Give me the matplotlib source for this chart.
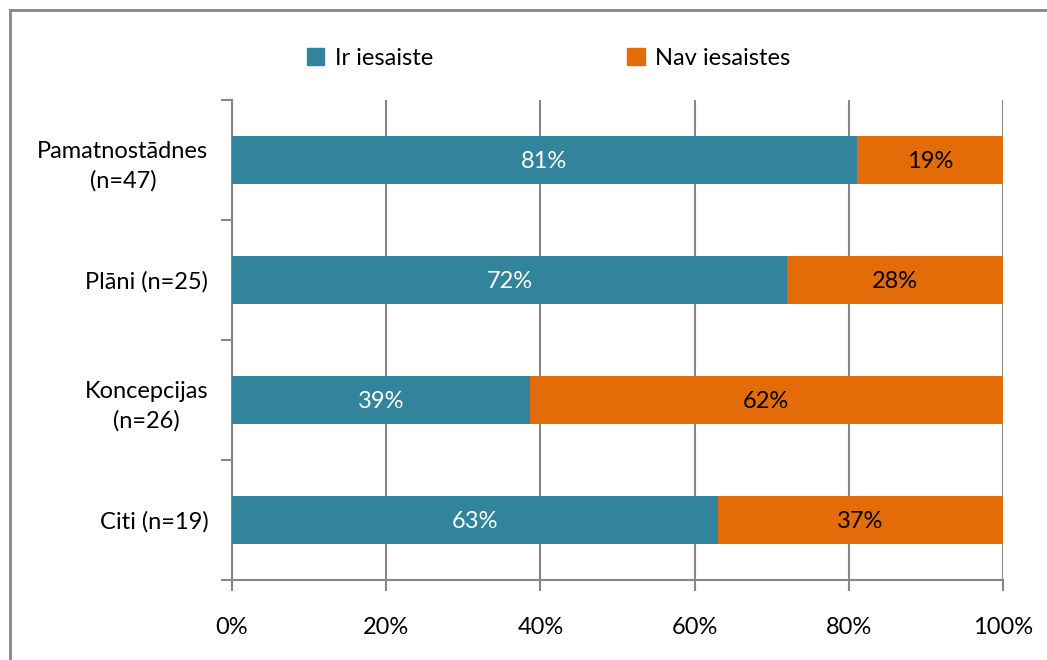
import matplotlib

matplotlib.use("Agg")
import matplotlib.pyplot as plt
import numpy as np
from matplotlib.lines import Line2D
from matplotlib.patches import Patch

categories = ["Pamatnostādnes\n(n=47)", "Plāni (n=25)", "Koncepcijas\n(n=26)", "Citi (n=19)"]
ir_iesaiste = [81, 72, 39, 63]
nav_iesaistes = [19, 28, 62, 37]
series_names = ["Ir iesaiste", "Nav iesaistes"]
x_ticks = [0, 20, 40, 60, 80, 100]

TEAL = "#31849B"
ORANGE = "#E36C09"
GRID = "#878787"
FS = 17

plt.rcParams["font.family"] = ["Lato", "DejaVu Sans"]

ir = np.array(ir_iesaiste, dtype=float)
nav = np.array(nav_iesaistes, dtype=float)
total = ir + nav
# 100% stacked: each row is scaled to its own total
ir_share = ir / total * 100
nav_share = nav / total * 100

fig = plt.figure(figsize=(10.47, 6.6), dpi=100)
ax = fig.add_axes([232 / 1047, 1 - 580 / 660, (1003 - 232) / 1047, (580 - 100) / 660])

y = np.arange(len(categories))[::-1]
ax.barh(y, ir_share, height=0.4, color=TEAL, zorder=3)
ax.barh(y, nav_share, left=ir_share, height=0.4, color=ORANGE, zorder=3)

for yi, a, b, la, lb in zip(y, ir_share, nav_share, ir, nav):
    ax.text(a / 2, yi, f"{la:.0f}%", ha="center", va="center_baseline", color="white", fontsize=FS, zorder=4)
    ax.text(a + b / 2, yi, f"{lb:.0f}%", ha="center", va="center_baseline", color="black", fontsize=FS, zorder=4)

ax.set_xlim(0, 100)
ax.set_ylim(-0.5, len(categories) - 0.5)
ax.set_xticks(x_ticks)
ax.set_xticklabels([f"{t}%" for t in x_ticks], fontsize=FS)
ax.tick_params(axis="x", direction="out", length=8, width=1.5, color=GRID, pad=19)
ax.xaxis.grid(True, color=GRID, linewidth=1.5, zorder=0)

# category boundaries carry the tick marks, labels sit at the bar centres
ax.set_yticks(np.arange(len(categories) + 1) - 0.5)
ax.set_yticklabels([])
ax.set_yticks(y, minor=True)
ax.set_yticklabels(categories, minor=True, fontsize=FS, multialignment="center", linespacing=1.45)
ax.tick_params(axis="y", which="major", direction="out", length=8, width=1.5, color=GRID)
ax.tick_params(axis="y", which="minor", length=0, pad=17)

for side in ["top", "right"]:
    ax.spines[side].set_visible(False)
for side in ["left", "bottom"]:
    ax.spines[side].set_color(GRID)
    ax.spines[side].set_linewidth(1.5)

handles = [Patch(color=TEAL), Patch(color=ORANGE)]
fig.legend(handles, series_names, loc="center", bbox_to_anchor=(0.524, 0.912), ncol=2,
           frameon=False, fontsize=FS, handlelength=0.75, handleheight=0.75,
           handletextpad=0.45, columnspacing=8.2)

# outer chart border (top and left edges visible)
fig.add_artist(Line2D([10 / 1047, 1], [1 - 10 / 660] * 2, transform=fig.transFigure, color=GRID, linewidth=2))
fig.add_artist(Line2D([10 / 1047] * 2, [0, 1 - 10 / 660], transform=fig.transFigure, color=GRID, linewidth=2))

fig.savefig("out.png", dpi=100)
